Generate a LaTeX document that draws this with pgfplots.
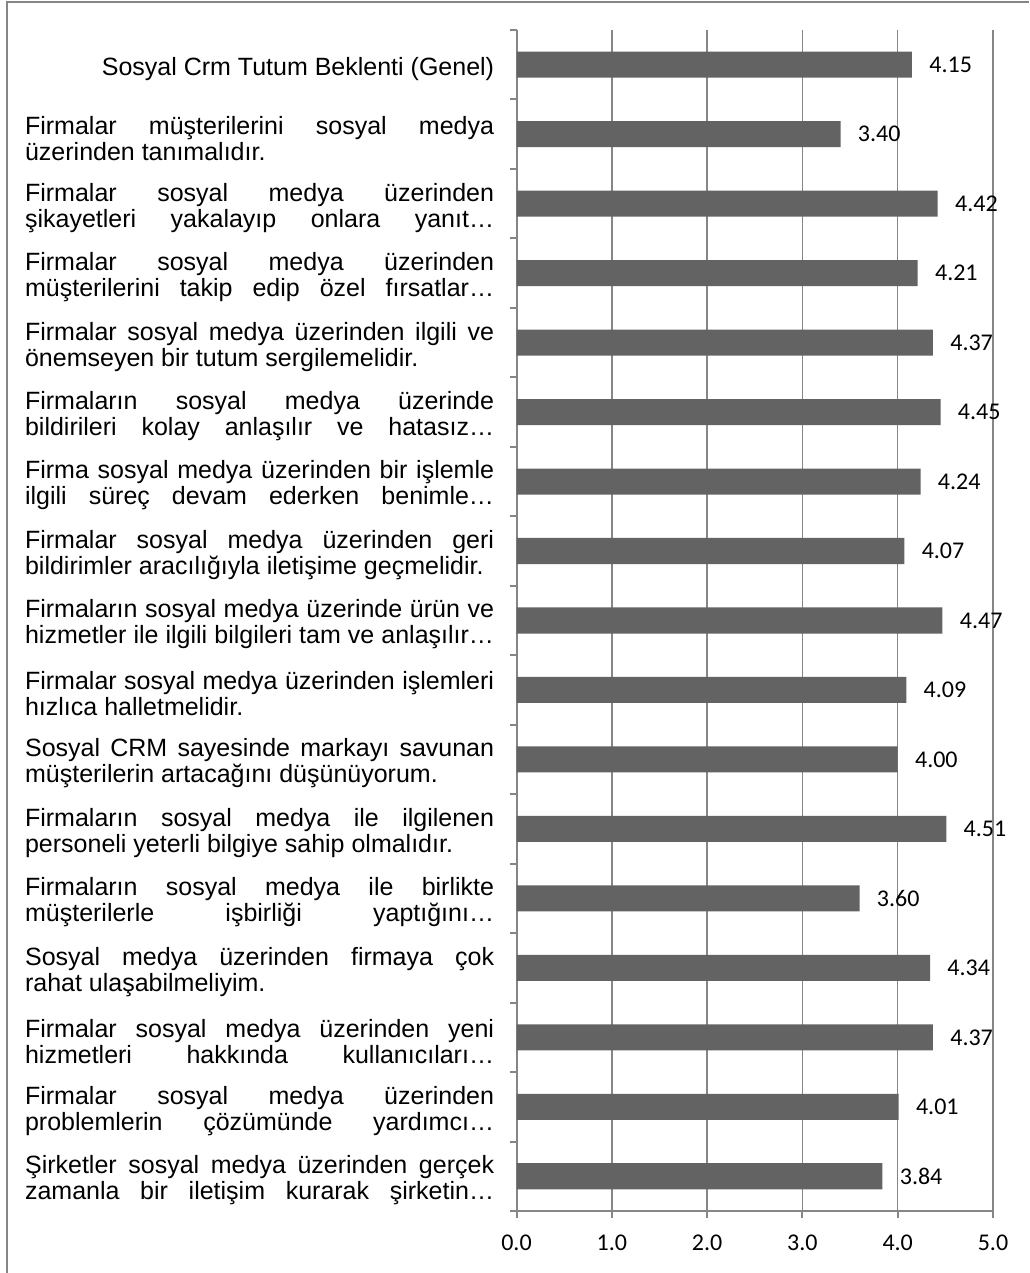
\documentclass[border=0pt]{standalone}
\usepackage{fontspec}
\setmainfont{Liberation Sans}
\newfontfamily\calfont{Carlito}
\usepackage{pgfplots}
\pgfplotsset{compat=1.18}
\definecolor{barfill}{RGB}{99,99,99}
\definecolor{rulegray}{RGB}{134,134,134}
% width of the category label column
\newlength\lw \setlength\lw{234.5pt}
% justified line, left-aligned line, right-aligned line
\newcommand\J[1]{\hbox to \lw{\spaceskip=0.278em plus 1fil minus 0.08em\relax #1}}
\newcommand\Lf[1]{\hbox to \lw{#1\hfil}}
\newcommand\Rt[1]{\hbox to \lw{\hfil #1}}
\newcommand\Two[2]{\vbox{\hsize=\lw\baselineskip=13pt\relax #1#2}}

\begin{document}
\begin{tikzpicture}
\path[use as bounding box] (0,0) rectangle (514.5pt,636.5pt);
\draw[rulegray, line width=1pt] (3.5pt,0) -- (3.5pt,635.5pt) -- (514.5pt,635.5pt);
\begin{axis}[
  at={(258.25pt,31pt)}, anchor=south west,
  scale only axis, width=238.25pt, height=590.5pt,
  xbar, bar width=0.375,
  xmin=0, xmax=5, ymin=-0.5, ymax=16.5,
  axis x line*=bottom, axis y line*=left,
  axis line style={rulegray, line width=1pt},
  xtick={0,...,5}, xticklabels={0.0,1.0,2.0,3.0,4.0,5.0},
  ytick={0,...,16},
  minor xtick={0,...,5},
  minor ytick={-0.5,0.5,...,16.5},
  major tick length=0pt, minor tick length=3.5pt,
  tick align=outside,
  tick style={rulegray, line width=1pt},
  xmajorgrids, grid style={rulegray, line width=0.75pt},
  xticklabel style={font=\calfont\fontsize{12}{14}\selectfont, anchor=north, inner sep=0pt, yshift=-12pt},
  yticklabel style={font=\fontsize{12.5}{13}\selectfont, anchor=east, inner sep=0pt, xshift=-11pt, yshift=-2pt},
  yticklabels={
    {\Two{\J{Şirketler sosyal medya üzerinden gerçek}}{\J{zamanla bir iletişim kurarak şirketin…}}},
    {\Two{\J{Firmalar sosyal medya üzerinden}}{\J{problemlerin çözümünde yardımcı…}}},
    {\Two{\J{Firmalar sosyal medya üzerinden yeni}}{\J{hizmetleri hakkında kullanıcıları…}}},
    {\Two{\J{Sosyal medya üzerinden firmaya çok}}{\Lf{rahat ulaşabilmeliyim.}}},
    {\Two{\J{Firmaların sosyal medya ile birlikte}}{\J{müşterilerle işbirliği yaptığını…}}},
    {\Two{\J{Firmaların sosyal medya ile ilgilenen}}{\Lf{personeli yeterli bilgiye sahip olmalıdır.}}},
    {\Two{\J{Sosyal CRM sayesinde markayı savunan}}{\Lf{müşterilerin artacağını düşünüyorum.}}},
    {\Two{\J{Firmalar sosyal medya üzerinden işlemleri}}{\Lf{hızlıca halletmelidir.}}},
    {\Two{\J{Firmaların sosyal medya üzerinde ürün ve}}{\J{hizmetler ile ilgili bilgileri tam ve anlaşılır…}}},
    {\Two{\J{Firmalar sosyal medya üzerinden geri}}{\Lf{bildirimler aracılığıyla iletişime geçmelidir.}}},
    {\Two{\J{Firma sosyal medya üzerinden bir işlemle}}{\J{ilgili süreç devam ederken benimle…}}},
    {\Two{\J{Firmaların sosyal medya üzerinde}}{\J{bildirileri kolay anlaşılır ve hatasız…}}},
    {\Two{\J{Firmalar sosyal medya üzerinden ilgili ve}}{\Lf{önemseyen bir tutum sergilemelidir.}}},
    {\Two{\J{Firmalar sosyal medya üzerinden}}{\J{müşterilerini takip edip özel fırsatlar…}}},
    {\Two{\J{Firmalar sosyal medya üzerinden}}{\J{şikayetleri yakalayıp onlara yanıt…}}},
    {\Two{\J{Firmalar müşterilerini sosyal medya}}{\Lf{üzerinden tanımalıdır.}}},
    {\Rt{Sosyal Crm Tutum Beklenti (Genel)}}
  },
  clip=false,
  point meta=x,
  nodes near coords={\pgfmathprintnumber[fixed,fixed zerofill,precision=2]{\pgfplotspointmeta}},
  every node near coord/.append style={font=\calfont\fontsize{12}{14}\selectfont, anchor=west, inner sep=0pt, xshift=8.5pt},
  /pgf/number format/assume math mode=true,
]
\addplot[fill=barfill, draw=none] coordinates {
  (3.84,0) (4.01,1) (4.37,2) (4.34,3) (3.60,4) (4.51,5) (4.00,6) (4.09,7)
  (4.47,8) (4.07,9) (4.24,10) (4.45,11) (4.37,12) (4.21,13) (4.42,14) (3.40,15) (4.15,16)
};
\end{axis}
\end{tikzpicture}
\end{document}
